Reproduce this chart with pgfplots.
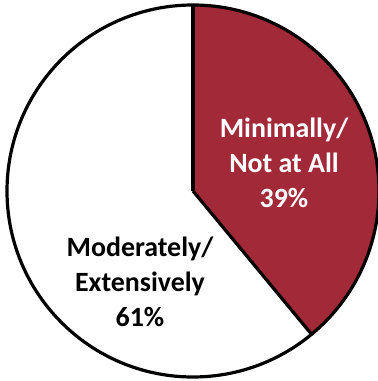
\documentclass[border=0pt]{standalone}
\usepackage{pgfplots}
\usepackage{pgfplotstable}
\usepackage{fontspec}
\setmainfont{Carlito}
\pgfplotsset{compat=1.18}

\definecolor{wine}{RGB}{161,41,56}

% Share of respondents per answer
\pgfplotstableread[col sep=comma]{
label,value
Minimally,39
Moderately,61
}\sharetable

\begin{document}
\begin{tikzpicture}
\pgfplotstablegetelem{0}{value}\of\sharetable
\pgfmathsetmacro{\first}{\pgfplotsretval}
\pgfmathsetmacro{\endangle}{90-3.6*\first}
\begin{axis}[
  name=pie,
  scale only axis,
  width=378bp, height=381bp,
  xmin=0, xmax=378, ymin=0, ymax=381,
  hide axis,
  clip=true,
]
  % Whole disc (second slice) and the first slice on top
  \fill[white] (axis cs:193,190) circle[radius=186bp];
  \fill[wine] (axis cs:193,190) -- ++(90:186bp)
      arc[start angle=90, end angle=\endangle, radius=186bp] -- cycle;
  \draw[line width=3.2bp, line join=round] (axis cs:193,190) -- ++(90:186bp);
  \draw[line width=3.2bp, line join=round] (axis cs:193,190) -- ++(\endangle:186bp);
  \draw[line width=3.2bp] (axis cs:193,190) circle[radius=186bp];

  \node[align=center, text=white, font=\bfseries\fontsize{28}{35}\selectfont]
    at (axis cs:284,218) {Minimally/\\Not at All\\39\%};
  \node[align=center, text=black, font=\bfseries\fontsize{28}{35}\selectfont]
    at (axis cs:140,99) {Moderately/\\Extensively\\61\%};
\end{axis}
\pgfresetboundingbox
\path[use as bounding box] (pie.south west) rectangle (pie.north east);
\end{tikzpicture}
\end{document}
